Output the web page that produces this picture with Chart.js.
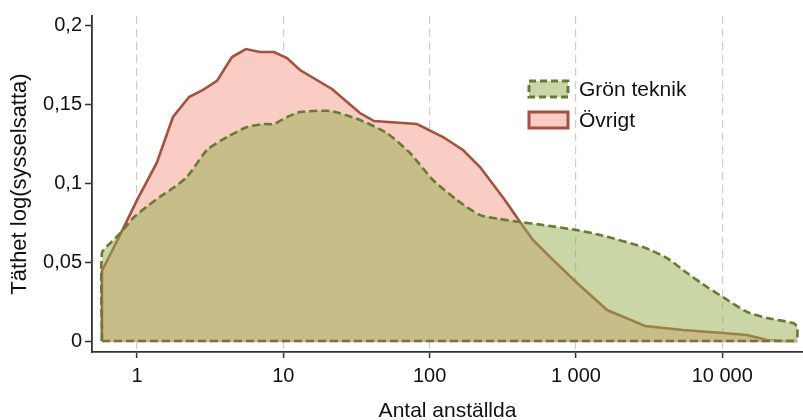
<!DOCTYPE html>
<html><head><meta charset="utf-8">
<script src="https://cdn.jsdelivr.net/npm/chart.js@4.4.1/dist/chart.umd.min.js"></script>
<style>html,body{margin:0;padding:0;background:#fff;}#wrap{width:803px;height:420px;}</style>
</head><body><div id="wrap"><canvas id="c" width="803" height="420"></canvas></div>
<script>
const seriesLabels = ['Grön teknik', 'Övrigt'];
const xTitle = 'Antal anställda';
const yTitle = 'Täthet log(sysselsatta)';
const xTicks = [1, 10, 100, 1000, 10000];
const yTicks = [0, 0.05, 0.1, 0.15, 0.2];

const gronX = [0.576, 0.576, 0.671, 0.786, 0.939, 1.165, 1.436, 1.762, 2.196, 3.009, 4.124, 5.647, 7.264, 8.63, 10.6, 13.0, 20.86, 33.4, 51.1, 73.4, 105.5, 153.8, 221, 303, 415, 596, 1002, 1462, 2875, 4195, 5744, 7871, 10120, 14760, 20220, 30480, 32560, 32560];
const gronY = [0, 0.0557, 0.0628, 0.0692, 0.0778, 0.0850, 0.0913, 0.0968, 0.1038, 0.1209, 0.1291, 0.1354, 0.1373, 0.1373, 0.1418, 0.1449, 0.1456, 0.1399, 0.1316, 0.1190, 0.1019, 0.0892, 0.0797, 0.0772, 0.0753, 0.0734, 0.0703, 0.0671, 0.0595, 0.0525, 0.0430, 0.0342, 0.0278, 0.0184, 0.0146, 0.0114, 0.0089, 0];

const ovrigtX = [0.576, 0.576, 0.786, 1, 1.364, 1.762, 2.267, 2.826, 3.522, 4.457, 5.555, 6.925, 8.63, 10.6, 13.0, 21.5, 33.4, 41.7, 82.0, 123.5, 169, 221, 327, 415, 509, 697, 1018, 1634, 2966, 5395, 10120, 14760, 20220, 26060, 32560];
const ovrigtY = [0, 0.0443, 0.0692, 0.0892, 0.1127, 0.1418, 0.1544, 0.1589, 0.1646, 0.1797, 0.1848, 0.1829, 0.1829, 0.1791, 0.1715, 0.1595, 0.1443, 0.1392, 0.1373, 0.1291, 0.1209, 0.1101, 0.0892, 0.0753, 0.0639, 0.0513, 0.0367, 0.0196, 0.0095, 0.0070, 0.0051, 0.0038, 0.0006, 0, 0];

const GREEN_LINE = 'rgb(104,122,52)';
const GREEN_FILL = 'rgba(149,173,77,0.5)';
const PINK_LINE = 'rgb(163,82,64)';
const PINK_FILL = 'rgb(249,204,196)';
const PINK_EDGE = 'rgb(214,166,156)';
const FONT = "'Liberation Sans', Arial, sans-serif";
const GREEN_DASH = [8, 4];

const toPts = (xs, ys) => xs.map((x, i) => ({x: x, y: ys[i]}));
const gronPts = toPts(gronX, gronY);
const ovrigtPts = toPts(ovrigtX, ovrigtY);
const basePts = [{x: gronX[0], y: 0}, {x: gronX[gronX.length - 1], y: 0}];

const fmtX = v => String(v).replace(/\B(?=(\d{3})+(?!\d))/g, ' ');
const fmtY = v => String(v).replace('.', ',');

const legendPlugin = {
  id: 'customLegend',
  afterDatasetsDraw(chart) {
    const ctx = chart.ctx;
    const items = [
      {label: seriesLabels[0], fill: GREEN_FILL, line: GREEN_LINE, dash: [7, 4]},
      {label: seriesLabels[1], fill: PINK_FILL, line: PINK_LINE, dash: []}
    ];
    const bx = 529, bw = 39, bh = 16;
    const ys = [81, 112];
    ctx.save();
    items.forEach((it, i) => {
      const y = ys[i];
      ctx.fillStyle = it.fill;
      ctx.fillRect(bx, y, bw, bh);
      ctx.setLineDash(it.dash);
      ctx.lineWidth = 3;
      ctx.strokeStyle = it.line;
      ctx.strokeRect(bx, y, bw, bh);
      ctx.setLineDash([]);
      ctx.fillStyle = '#111';
      ctx.font = "21px " + FONT;
      ctx.textBaseline = 'middle';
      ctx.textAlign = 'left';
      ctx.fillText(it.label, 579, y + bh / 2 + 1);
    });
    ctx.restore();
  }
};

new Chart(document.getElementById('c'), {
  type: 'line',
  data: {
    datasets: [
      {label: 'base', data: basePts, borderColor: GREEN_LINE, borderWidth: 2.6, borderDash: GREEN_DASH, fill: false, pointRadius: 0, order: 0},
      {label: 'base2', data: basePts, borderColor: PINK_EDGE, borderWidth: 2.4, fill: false, pointRadius: 0, order: 1},
      {label: seriesLabels[0], data: gronPts, borderColor: GREEN_LINE, backgroundColor: GREEN_FILL, borderWidth: 2.6, borderDash: GREEN_DASH, fill: 'origin', pointRadius: 0, tension: 0.2, order: 2},
      {label: seriesLabels[1], data: ovrigtPts, borderColor: PINK_LINE, backgroundColor: PINK_FILL, borderWidth: 2.6, fill: 'origin', pointRadius: 0, tension: 0, order: 3}
    ]
  },
  options: {
    responsive: false,
    animation: false,
    devicePixelRatio: 1,
    layout: {padding: {top: 16, right: 0, bottom: 0, left: 0}},
    plugins: {legend: {display: false}, tooltip: {enabled: false}},
    scales: {
      x: {
        type: 'logarithmic', min: 0.4925, max: 35650,
        afterBuildTicks: s => { s.ticks = xTicks.map(v => ({value: v})); },
        afterFit: s => { s.height = 68; },
        ticks: {callback: v => fmtX(v), font: {family: FONT, size: 20}, color: '#111', padding: 6, maxRotation: 0, autoSkip: false},
        grid: {color: '#cccccc', lineWidth: 1.2, tickColor: '#333', tickLength: 6, tickWidth: 1.5},
        border: {color: '#333', width: 1.8, dash: [8, 5]},
        title: {display: true, text: xTitle, font: {family: FONT, size: 21, lineHeight: 0.8}, color: '#111', padding: 0}
      },
      y: {
        min: -0.00696, max: 0.2057,
        afterBuildTicks: s => { s.ticks = yTicks.map(v => ({value: v})); },
        afterFit: s => { s.width = 92; },
        ticks: {callback: v => fmtY(v), font: {family: FONT, size: 20}, color: '#111', padding: 3},
        grid: {drawOnChartArea: false, tickColor: '#333', tickLength: 7, tickWidth: 1.5},
        border: {color: '#333', width: 1.8},
        title: {display: true, text: yTitle, font: {family: FONT, size: 22}, color: '#111', padding: {top: 7, bottom: 0}}
      }
    }
  },
  plugins: [legendPlugin]
});
</script>
</body></html>
